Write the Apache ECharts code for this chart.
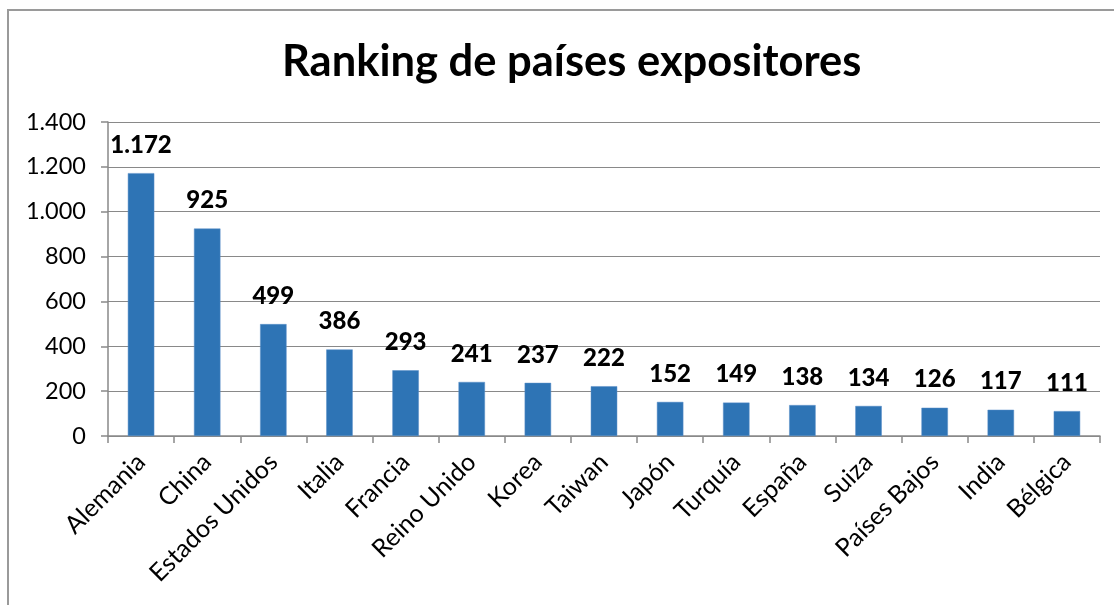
<!DOCTYPE html>
<html>
<head>
<meta charset="utf-8">
<script src="https://cdn.jsdelivr.net/npm/echarts@6/dist/echarts.min.js"></script>
<style>
  html, body { margin: 0; padding: 0; background: #fff; }
  #chart { width: 1114px; height: 605px; }
</style>
</head>
<body>
<div id="chart"></div>
<script>
const countries = [
  "Alemania", "China", "Estados Unidos", "Italia", "Francia", "Reino Unido", "Korea",
  "Taiwan", "Japón", "Turquía", "España", "Suiza", "Países Bajos", "India", "Bélgica"
];
const exhibitors = [1172, 925, 499, 386, 293, 241, 237, 222, 152, 149, 138, 134, 126, 117, 111];
const yTicks = [0, 200, 400, 600, 800, 1000, 1200, 1400];

const FONT = "Lato, 'Open Sans', sans-serif";
const AXIS_GRAY = "#898989";

// thousands separator as in the es locale: 1.172
function fmtEs(v) {
  return String(v).replace(/\B(?=(\d{3})+(?!\d))/g, ".");
}

const chart = echarts.init(document.getElementById("chart"), null, { renderer: "canvas" });
chart.setOption({
  backgroundColor: "#ffffff",
  animation: false,
  title: {
    text: "Ranking de países expositores",
    left: 277,
    top: 35,
    textStyle: { fontFamily: FONT, fontSize: 43.5, fontWeight: "bold", color: "#000" }
  },
  graphic: [{
    type: "rect",
    shape: { x: 8, y: 10, width: 1300, height: 800 },
    style: { fill: "none", stroke: "#9a9a9a", lineWidth: 2 },
    silent: true
  }],
  grid: { left: 108, right: 14, top: 122, bottom: 169, containLabel: false },
  xAxis: {
    type: "category",
    data: countries,
    axisLine: { lineStyle: { color: AXIS_GRAY, width: 1.5 } },
    axisTick: { show: true, alignWithLabel: false, length: 7, lineStyle: { color: AXIS_GRAY, width: 1.5 } },
    axisLabel: {
      interval: 0,
      rotate: 45,
      margin: 22,
      fontFamily: FONT,
      fontSize: 25,
      color: "#000"
    }
  },
  yAxis: {
    type: "value",
    min: yTicks[0],
    max: yTicks[yTicks.length - 1],
    interval: 200,
    axisLine: { show: true, lineStyle: { color: AXIS_GRAY, width: 1.5 } },
    axisTick: { show: true, length: 7, lineStyle: { color: AXIS_GRAY, width: 1.5 } },
    splitLine: { show: true, lineStyle: { color: AXIS_GRAY, width: 1.2 } },
    axisLabel: {
      margin: 22,
      fontFamily: FONT,
      fontSize: 23.5,
      color: "#000",
      formatter: (v) => fmtEs(v)
    }
  },
  series: [{
    type: "bar",
    data: exhibitors,
    barWidth: "40%",
    itemStyle: { color: "#2E74B5", borderColor: "#5B8FC8", borderWidth: 0.5 },
    label: {
      show: true,
      position: "top",
      distance: 16,
      fontFamily: FONT,
      fontSize: 24,
      fontWeight: 900,
      color: "#000",
      formatter: (p) => fmtEs(p.value)
    }
  }]
});
</script>
</body>
</html>
